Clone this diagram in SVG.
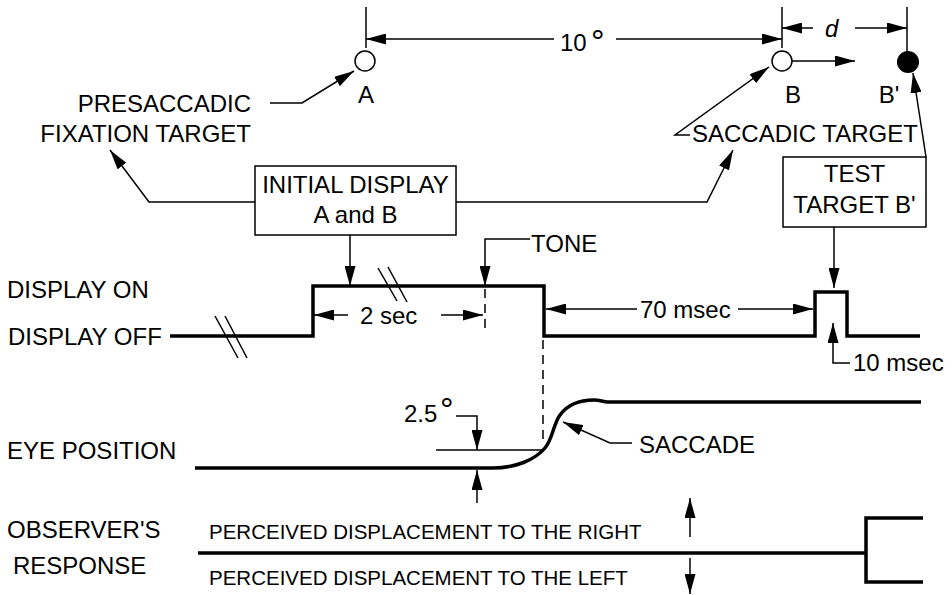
<svg xmlns="http://www.w3.org/2000/svg" width="952" height="595" viewBox="0 0 952 595">
<defs>
<marker id="ah" markerUnits="userSpaceOnUse" markerWidth="20" markerHeight="11" refX="20" refY="5.5" orient="auto"><path d="M0,0 L20,5.5 L0,11 Z" fill="#000"/></marker>
</defs>
<style>
text{font-family:"Liberation Sans",Arial,Helvetica,sans-serif;font-size:24px;fill:#000}
.sm{font-size:20.5px}
.deg{font-size:34px}
.mid{text-anchor:middle}
.end{text-anchor:end}
.thin{fill:none;stroke:#000;stroke-width:1.5}
.arr{fill:none;stroke:#000;stroke-width:1.5;marker-end:url(#ah)}
.thick{fill:none;stroke:#000;stroke-width:3.5;stroke-linejoin:miter;stroke-linecap:butt}
.dash{fill:none;stroke:#000;stroke-width:1.5;stroke-dasharray:9 6}
.box{fill:#fff;stroke:#000;stroke-width:1.5}
</style>
<rect width="952" height="595" fill="#fff"/>

<g id="connectors">
  <!-- 10 degree dimension -->
  <line class="thin" x1="366" y1="7" x2="366" y2="48"/>
  <line class="thin" x1="782" y1="7" x2="782" y2="48"/>
  <line class="thin" x1="907" y1="7" x2="907" y2="54"/>
  <line class="arr" x1="554" y1="39" x2="366" y2="39"/>
  <line class="arr" x1="616" y1="39" x2="782" y2="39"/>
  <!-- d dimension -->
  <line class="arr" x1="813" y1="28" x2="782" y2="28"/>
  <line class="arr" x1="855" y1="28" x2="907" y2="28"/>
  <!-- B displacement arrow -->
  <line class="arr" x1="792" y1="61" x2="855" y2="61"/>
  <!-- presaccadic pointer -->
  <polyline class="arr" points="270,103 302,103 354,71"/>
  <!-- initial display pointers -->
  <polyline class="arr" points="255,202 149,202 110,150"/>
  <polyline class="arr" points="456,202 707,202 733,150"/>
  <!-- saccadic target pointer -->
  <polyline class="arr" points="690,135 675,135 769,67"/>
  <!-- test target pointers -->
  <polyline class="arr" points="926,157 913,73"/>
  <line class="arr" x1="834" y1="227" x2="834" y2="288"/>
  <!-- initial display to onset -->
  <line class="arr" x1="350" y1="235" x2="350" y2="286"/>
  <!-- tone -->
  <polyline class="arr" points="530,239 485,239 485,286"/>
  <line class="dash" x1="485" y1="289" x2="485" y2="334"/>
  <!-- 2 sec -->
  <line class="arr" x1="348" y1="315" x2="314" y2="315"/>
  <line class="arr" x1="441" y1="315" x2="483" y2="315"/>
  <!-- 70 msec -->
  <line class="arr" x1="637" y1="309" x2="546" y2="309"/>
  <line class="arr" x1="738" y1="309" x2="813" y2="309"/>
  <!-- 10 msec -->
  <polyline class="arr" points="850,363 833,363 833,323"/>
  <!-- dashed drop line from offset -->
  <line class="dash" x1="543" y1="340" x2="543" y2="444"/>
  <!-- 2.5 deg -->
  <polyline class="arr" points="456,416 477,416 477,450"/>
  <line class="thin" x1="436" y1="450" x2="543" y2="450"/>
  <line class="arr" x1="477" y1="503" x2="477" y2="470"/>
  <!-- saccade pointer -->
  <polyline class="arr" points="632,443 610,443 563,422"/>
  <!-- response arrows -->
  <line class="arr" x1="690" y1="537" x2="690" y2="498"/>
  <line class="arr" x1="690" y1="558" x2="690" y2="594"/>
  <!-- break marks -->
  <line class="thin" x1="215" y1="316" x2="238" y2="358"/>
  <line class="thin" x1="225" y1="316" x2="247" y2="358"/>
  <line class="thin" x1="378" y1="268" x2="397" y2="301"/>
  <line class="thin" x1="388" y1="267" x2="407" y2="302"/>
</g>

<g id="target-A">
  <circle class="thin" fill="#fff" cx="365" cy="61" r="10" style="fill:#fff"/>
  <text class="mid" x="366" y="103">A</text>
</g>
<g id="target-B">
  <circle class="thin" cx="782" cy="61" r="10" style="fill:#fff"/>
  <text class="mid" x="793" y="103">B</text>
</g>
<g id="target-Bprime">
  <circle cx="908" cy="62" r="11" fill="#000"/>
  <text class="mid" x="889" y="103">B'</text>
</g>

<g id="label-10deg">
  <text x="560" y="51">10</text>
  <text class="deg" x="591" y="53">°</text>
</g>
<g id="label-d">
  <text x="825" y="37" font-style="italic">d</text>
</g>

<g id="label-presaccadic">
  <text class="end" x="251" y="112">PRESACCADIC</text>
  <text class="end" x="251" y="142">FIXATION TARGET</text>
</g>
<g id="label-saccadic">
  <text x="692" y="142">SACCADIC TARGET</text>
</g>

<g id="box-initial">
  <rect class="box" x="255" y="166" width="201" height="69"/>
  <text class="mid" x="355.5" y="193">INITIAL DISPLAY</text>
  <text class="mid" x="355.5" y="223">A and B</text>
</g>
<g id="box-test">
  <rect class="box" x="783" y="157" width="143" height="70"/>
  <text class="mid" x="854.5" y="182">TEST</text>
  <text class="mid" x="854.5" y="213">TARGET B'</text>
</g>

<g id="label-tone"><text x="531" y="252">TONE</text></g>
<g id="label-2sec"><text x="360" y="324">2 sec</text></g>
<g id="label-70msec"><text x="640" y="318">70 msec</text></g>
<g id="label-10msec"><text x="853" y="371">10 msec</text></g>

<g id="display-labels">
  <text x="7" y="298">DISPLAY ON</text>
  <text x="8" y="345">DISPLAY OFF</text>
</g>
<g id="trace-display">
  <polyline class="thick" points="170,336 313,336 313,286 544,286 544,336 815,336 815,292 847,292 847,336 920,336"/>
</g>

<g id="eye-label"><text x="7" y="459">EYE POSITION</text></g>
<g id="label-2-5deg">
  <text x="404" y="422">2.5</text>
  <text class="deg" x="440" y="421">°</text>
</g>
<g id="trace-eye">
  <path class="thick" d="M195,468 L493,468 C515,468 535,460 545,448 C553,438 553,425 560,415 C568,404 580,400 594,400 C600,400 603,402 608,402 L921,402"/>
</g>
<g id="label-saccade"><text x="639" y="453">SACCADE</text></g>

<g id="response-label">
  <text x="7" y="538">OBSERVER'S</text>
  <text x="13" y="574">RESPONSE</text>
</g>
<g id="trace-response">
  <path class="thick" d="M198,553 H866 M923,518 H866 V582 H923"/>
</g>
<g id="response-texts">
  <text class="sm" x="209" y="539">PERCEIVED DISPLACEMENT TO THE RIGHT</text>
  <text class="sm" x="209" y="585">PERCEIVED DISPLACEMENT TO THE LEFT</text>
</g>
</svg>
